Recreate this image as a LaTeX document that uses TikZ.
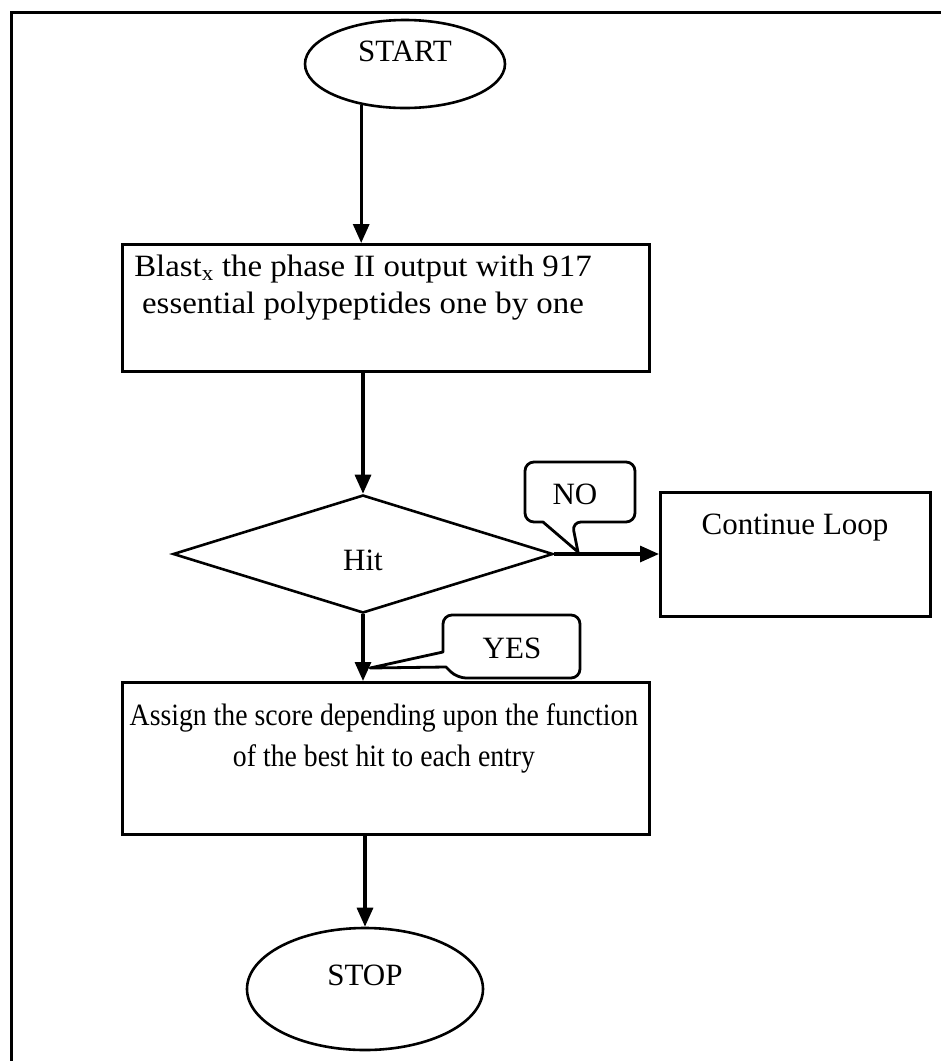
\documentclass[tikz,border=0pt]{standalone}
\usepackage{fontspec}
\setmainfont{Liberation Serif}
\usetikzlibrary{shapes.geometric,arrows.meta}
\newcommand{\widetext}[3]{\scalebox{#1}[1]{\fontsize{31}{#2}\selectfont\begin{tabular}{@{}c@{}}#3\end{tabular}}}
\begin{document}
\begin{tikzpicture}[x=1pt,y=-1pt,
  every node/.style={font=\fontsize{31}{38}\selectfont},
  terminal/.style={draw, ellipse, line width=2.6pt, inner sep=0pt},
  stepbox/.style={draw, rectangle, line width=3pt, inner sep=0pt, anchor=north west},
  decision/.style={draw, diamond, line width=2.6pt, inner sep=0pt},
  label/.style={inner sep=0pt},
  flow/.style={line width=3.2pt, -{Triangle[length=19pt,width=16pt]}},
  bubble/.style={line width=2.8pt, line join=round}
]
\useasboundingbox (0,0) rectangle (941,1061);

% page frame (left and top edges)
\draw[line width=3pt] (11,1061) -- (11,12) -- (941,12);

% terminals
\node[terminal, minimum width=200pt, minimum height=88pt] (start) at (405,64) {};
\node[label] (starttxt) at (405,51) {START};
\node[terminal, minimum width=236pt, minimum height=122pt] (stop) at (365,989) {};
\node[label] (stoptxt) at (365,975) {STOP};

% process boxes
\node[stepbox, minimum width=527pt, minimum height=127pt] (blast) at (121,243) {};
\node[label] (blasttxt) at (363,288)
  {\widetext{1.06}{37}{Blast\textsubscript{x} the phase II output with 917\\essential polypeptides one by one}};
\node[stepbox, minimum width=527pt, minimum height=152pt] (assign) at (121,681) {};
\node[label] (assigntxt) at (384,738)
  {\widetext{0.895}{41}{Assign the score depending upon the function\\of the best hit to each entry}};
\node[stepbox, minimum width=270pt, minimum height=124pt] (loop) at (659,491) {};
\node[label] (looptxt) at (795,528) {Continue Loop};

% decision
\node[decision, minimum width=380pt, minimum height=118pt] (hit) at (363,554) {};
\node[label] (hittxt) at (363,560) {Hit};

% connectors
\draw[flow] (start.223) -- (start.223 |- blast.north);
\draw[flow] (hit.north |- blast.south) -- (hit.north);
\draw[flow] (hit.east) -- (hit.east -| loop.west);
\draw[flow] (hit.south) -- (hit.south |- assign.north);
\draw[flow] (stop.north |- assign.south) -- (stop.north);

% answer bubbles
\node[label] (notxt) at (575,494) {NO};
\coordinate (notip) at (578,552);
\draw[bubble] (notip) -- (543,522) [rounded corners=9pt] -- (525,522) -- (525,462)
  -- (635,462) -- (635,522) -- (572,522) [sharp corners] -- cycle;

\node[label] (yestxt) at (512,648) {YES};
\coordinate (yestip) at (370,668);
\draw[bubble] (yestip) -- (443,652) [rounded corners=9pt] -- (443,615) -- (580,615)
  -- (580,678) -- (457,678) [sharp corners] -- (446,667) -- cycle;
\end{tikzpicture}
\end{document}
